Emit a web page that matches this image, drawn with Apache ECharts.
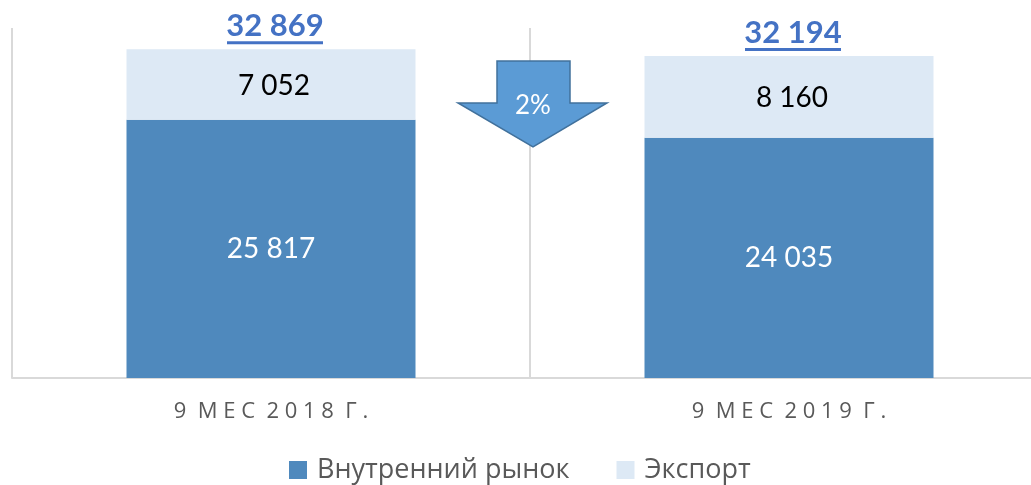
<!DOCTYPE html>
<html>
<head>
<meta charset="utf-8">
<script src="https://cdn.jsdelivr.net/npm/echarts@6/dist/echarts.min.js"></script>
<style>
  html, body { margin: 0; padding: 0; background: #fff; }
  #chart { width: 1031px; height: 485px; }
</style>
</head>
<body>
<div id="chart"></div>
<script>
const categories = ['9 МЕС 2018 Г.', '9 МЕС 2019 Г.']
const domestic = [25817, 24035]
const exportVals = [7052, 8160]
const totals = [32869, 32194]
const changeText = '2%'

const fmt = v => String(v).replace(/\B(?=(\d{3})+(?!\d))/g, ' ')
// spread letters a bit, like the original axis labels
const spread = s => s.split('').join(' ').replace(/   /g, '  ')

const chart = echarts.init(document.getElementById('chart'))

const option = {
  animation: false,
  grid: {
    left: 12,
    top: 28,
    width: 1036,
    height: 350,
    containLabel: false,
    outerBoundsMode: 'none'
  },
  legend: {
    data: ['Внутренний рынок', 'Экспорт'],
    left: 289,
    top: 455,
    padding: 0,
    icon: 'rect',
    itemWidth: 18,
    itemHeight: 18,
    itemGap: 47,
    textStyle: {
      fontFamily: 'Open Sans',
      fontSize: 27,
      lineHeight: 30,
      color: '#595959',
      padding: [0, 0, 0, 5]
    }
  },
  xAxis: {
    type: 'category',
    data: categories,
    axisLine: { show: true, lineStyle: { color: '#d9d9d9', width: 2 } },
    axisTick: { show: false },
    splitLine: { show: true, lineStyle: { color: '#d9d9d9', width: 2 } },
    axisLabel: {
      margin: 23,
      fontFamily: 'Open Sans',
      fontSize: 22,
      color: '#595959',
      formatter: v => spread(v)
    }
  },
  yAxis: {
    type: 'value',
    min: 0,
    max: 35000,
    show: false,
    splitLine: { show: false }
  },
  series: [
    {
      name: 'Внутренний рынок',
      type: 'bar',
      stack: 'total',
      barWidth: 289,
      data: domestic,
      itemStyle: { color: '#4f89bd' },
      label: {
        show: true,
        position: 'inside',
        fontFamily: 'Lato',
        fontSize: 28,
        color: '#fff',
        formatter: p => fmt(p.value)
      }
    },
    {
      name: 'Экспорт',
      type: 'bar',
      stack: 'total',
      barWidth: 289,
      data: exportVals,
      itemStyle: { color: '#dde9f5' },
      label: {
        show: true,
        position: 'inside',
        offset: [3, 1],
        fontFamily: 'Lato',
        fontSize: 28,
        color: '#000',
        formatter: p => fmt(p.value)
      }
    },
    {
      name: 'Итого',
      type: 'bar',
      barWidth: 289,
      barGap: '-100%',
      z: 1,
      silent: true,
      data: totals,
      itemStyle: { color: 'rgba(0,0,0,0)' },
      label: {
        show: true,
        position: 'top',
        distance: 5,
        offset: [4, 0],
        align: 'center',
        formatter: p => '{t|' + fmt(p.value) + '}\n{u| }',
        rich: {
          t: {
            fontFamily: 'Lato',
            fontWeight: 'bold',
            fontSize: 31,
            lineHeight: 30,
            color: '#4472c4',
            align: 'center'
          },
          u: {
            width: 96,
            height: 3,
            lineHeight: 3,
            fontSize: 1,
            backgroundColor: '#4472c4',
            align: 'center'
          }
        }
      }
    }
  ],
  graphic: [
    {
      type: 'polygon',
      z: 100,
      shape: {
        points: [[497, 61], [570, 61], [570, 103], [607, 103], [533, 147], [458, 103], [497, 103]]
      },
      style: { fill: '#5b9bd5', stroke: '#41719c', lineWidth: 1.5 }
    },
    {
      type: 'text',
      z: 101,
      x: 533,
      y: 106,
      style: {
        text: changeText,
        fill: '#fff',
        font: '26px Lato',
        align: 'center',
        verticalAlign: 'middle'
      }
    }
  ]
}

chart.setOption(option)
</script>
</body>
</html>
